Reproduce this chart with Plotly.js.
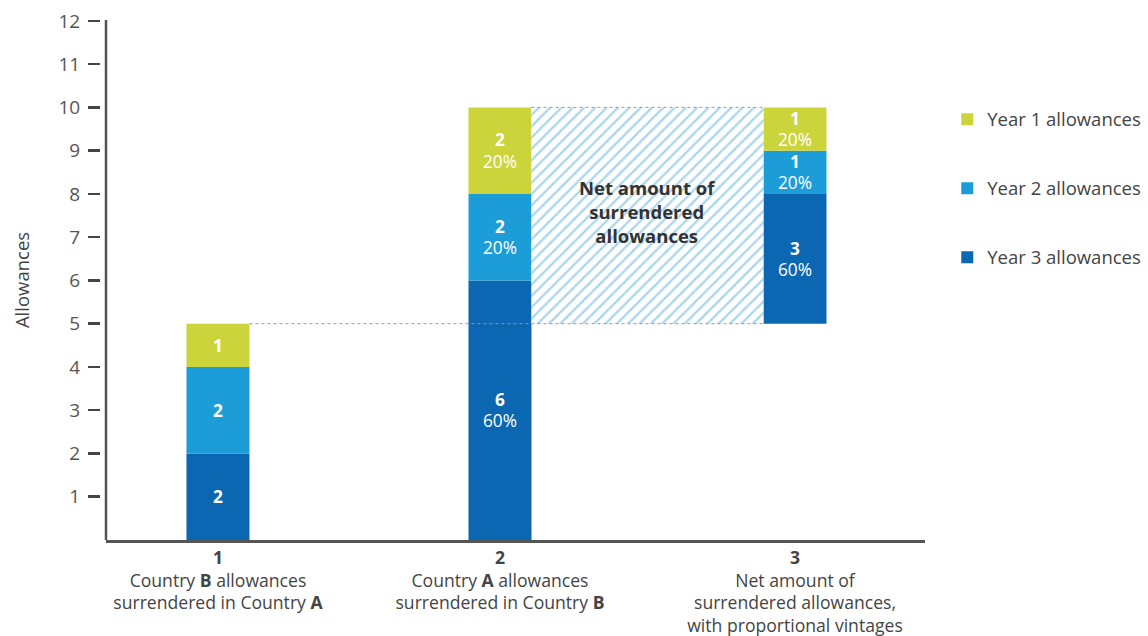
<!DOCTYPE html>
<html>
<head>
<meta charset="utf-8">
<script src="https://cdn.plot.ly/plotly-3.0.1.min.js"></script>
<style>html,body{margin:0;padding:0;background:#fff;}#chart{width:1148px;height:636px;}</style>
</head>
<body>
<div id="chart"></div>
<script>
// ---- data ----
const categories = [1, 2, 3];
const tickNumbers = ["1", "2", "3"];
const tickLines = [
  "Country <b>B</b> allowances<br>surrendered in Country <b>A</b>",
  "Country <b>A</b> allowances<br>surrendered in Country <b>B</b>",
  "Net amount of<br>surrendered allowances,<br>with proportional vintages"
];
const seriesNames = ["Year 1 allowances", "Year 2 allowances", "Year 3 allowances"];
const year1 = [1, 2, 1];
const year2 = [2, 2, 1];
const year3 = [2, 6, 3];
const showShare = [false, true, true];
const yTicks = [1, 2, 3, 4, 5, 6, 7, 8, 9, 10, 11, 12];
const netLabel = "<b>Net amount of<br>surrendered<br>allowances</b>";

// ---- style ----
const colors = ["#cbd53b", "#1d9dd8", "#0b67b1"];
const FONT = "Open Sans, Noto Sans, sans-serif";
const barW = 0.2234;
const slotShift = [0, 0, 0.046];   // layout nudge of the third slot (visual spacing only)

// ---- derived ----
const xPos = categories.map((c, i) => c + slotShift[i]);
const totals = categories.map((c, i) => year1[i] + year2[i] + year3[i]);
// bar 3 = bar 2 netted against bar 1; it floats on top of bar 1's total
const base = categories.map((c, i) => i === 2 ? totals[0] : 0);

const SP = '<span style="font-size:17.3px">';
function labels(vals) {
  return vals.map((v, i) => showShare[i]
    ? SP + '<b>' + v + '</b></span><br>' + SP + Math.round(100 * v / totals[i]) + '%</span>'
    : SP + '<b>' + v + '</b></span>');
}

const b3 = base;
const b2 = base.map((b, i) => b + year3[i]);
const b1 = b2.map((b, i) => b + year2[i]);

function barTrace(name, vals, bases, color, rank) {
  return {
    type: "bar", name: name, x: xPos, y: vals, base: bases,
    width: barW, marker: {color: color, line: {width: 0}},
    text: labels(vals), textposition: "inside", insidetextanchor: "middle",
    constraintext: "none", textangle: 0,
    textfont: {color: "#ffffff", size: 16.5, family: FONT},
    legendgroup: name, legendrank: rank, hoverinfo: "skip"
  };
}

const gapL = xPos[1] + barW / 2, gapR = xPos[2] - barW / 2;

const traces = [
  barTrace(seriesNames[2], year3, b3, colors[2], 3),
  barTrace(seriesNames[1], year2, b2, colors[1], 2),
  barTrace(seriesNames[0], year1, b1, colors[0], 1),
  {
    type: "bar", x: [(gapL + gapR) / 2],
    y: [totals[1] - totals[0]], base: [totals[0]],
    width: gapR - gapL,
    marker: {color: "#ffffff", line: {width: 0},
      pattern: {shape: "/", fgcolor: "#a9d6ee", bgcolor: "#ffffff", size: 8, solidity: 0.28}},
    showlegend: false, hoverinfo: "skip"
  }
];

const plotW = 1148 - 100 - 223;
const d = 6 / plotW;

const layout = {
  width: 1148, height: 636,
  margin: {l: 100, r: 223, t: 20, b: 96, autoexpand: false},
  paper_bgcolor: "#ffffff", plot_bgcolor: "#ffffff",
  barmode: "overlay",
  font: {family: FONT, color: "#444"},
  showlegend: true,
  legend: {
    x: 1.027, y: 0.845, xanchor: "left", yanchor: "top",
    traceorder: "grouped", tracegroupgap: 42,
    font: {size: 18.5, color: "#444", family: FONT},
    itemwidth: 30, bgcolor: "rgba(0,0,0,0)"
  },
  xaxis: {
    domain: [d, 1], range: [0.603, 3.507],
    tickvals: xPos,
    ticktext: categories.map((c, i) => "<b>" + tickNumbers[i] + "</b><br>" + tickLines[i]),
    tickfont: {size: 17.6, color: "#444", family: FONT},
    showline: true, linecolor: "#555", linewidth: 2.5,
    showgrid: false, zeroline: false, ticks: "", fixedrange: true, automargin: false
  },
  yaxis: {
    anchor: "free", position: 0,
    range: [0, 12.02], tickvals: yTicks,
    tickfont: {size: 19, color: "#555", family: FONT},
    ticks: "outside", ticklen: 12, tickwidth: 2.5, tickcolor: "#444",
    ticklabelstandoff: 4,
    showline: false, showgrid: false, zeroline: false,
    title: {text: "Allowances", font: {size: 18.5, color: "#444", family: FONT}, standoff: 22},
    fixedrange: true, automargin: false
  },
  shapes: [
    {type: "line", xref: "paper", yref: "paper", x0: d, x1: d, y0: 0, y1: 1,
      line: {color: "#555", width: 2.5}},
    {type: "line", xref: "x", yref: "y",
      x0: xPos[0] + barW / 2, x1: gapR, y0: totals[0], y1: totals[0],
      line: {color: "#999", width: 1, dash: "dot"}},
    {type: "line", xref: "x", yref: "y",
      x0: gapL, x1: gapR, y0: totals[1], y1: totals[1],
      line: {color: "#999", width: 1, dash: "dot"}}
  ],
  annotations: [
    {x: (gapL + gapR) / 2, y: (totals[0] + totals[1]) / 2, xref: "x", yref: "y",
      yshift: 4,
      text: netLabel, showarrow: false, align: "center",
      font: {size: 18.5, color: "#333", family: FONT}}
  ]
};

Plotly.newPlot("chart", traces, layout, {displayModeBar: false, staticPlot: true});
</script>
</body>
</html>
